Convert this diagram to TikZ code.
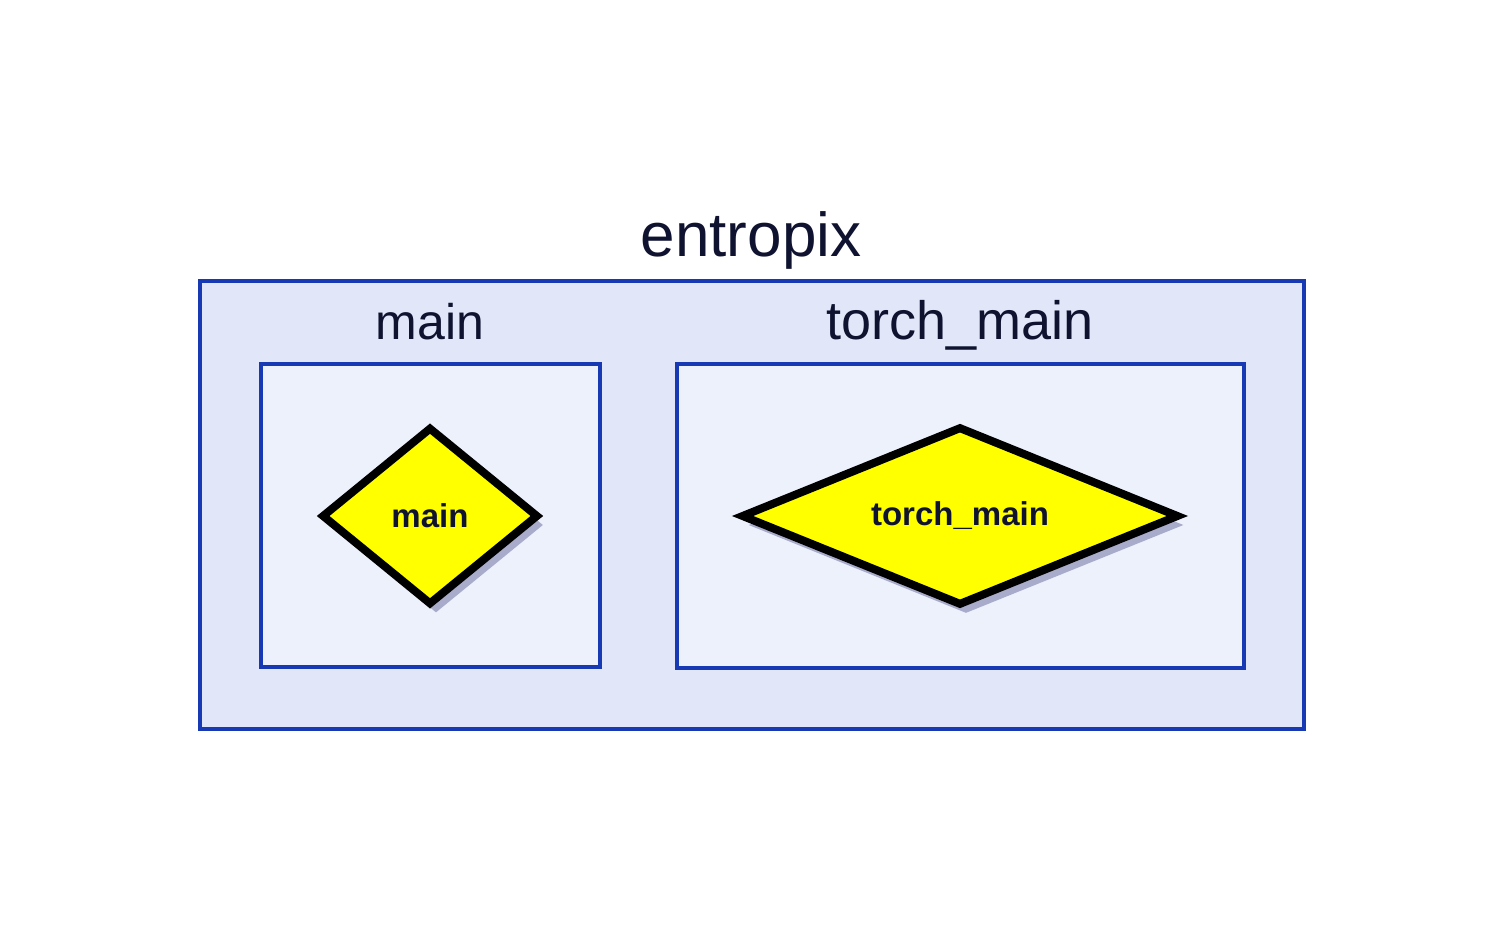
\documentclass[tikz,border=0pt]{standalone}
\usepackage{fontspec}
\setmainfont{Liberation Sans}
\usetikzlibrary{shapes.geometric,shadows}
\definecolor{boxblue}{HTML}{1739B3}
\definecolor{outerfill}{HTML}{E1E7F9}
\definecolor{innerfill}{HTML}{EDF1FC}
\definecolor{inkc}{HTML}{0F1330}
\definecolor{shadowc}{HTML}{A8ABC9}
\definecolor{decyellow}{HTML}{FFFF00}
\begin{document}
\begin{tikzpicture}[x=0.5pt,y=-0.5pt,
  outerbox/.style={draw=boxblue,line width=2pt,fill=outerfill,rectangle,inner sep=0pt},
  innerbox/.style={draw=boxblue,line width=2pt,fill=innerfill,rectangle,inner sep=0pt},
  decision/.style={diamond,draw=black,line width=4pt,fill=decyellow,inner sep=0pt,
    text=inkc,font=\fontsize{16.5}{18}\selectfont\bfseries,
    drop shadow={shadow xshift=3pt,shadow yshift=-4.5pt,fill=shadowc,opacity=1}},
  title/.style={text=inkc,anchor=base,inner sep=0pt}]
\useasboundingbox (0,0) rectangle (1504,930);
\node[outerbox,minimum width=552pt,minimum height=224pt] (outer) at (752,505) {};
\node[innerbox,minimum width=169.5pt,minimum height=151.5pt] (mainbox) at (430.5,515.5) {};
\node[innerbox,minimum width=283.5pt,minimum height=152pt] (torchbox) at (960.5,516) {};
\node[title,font=\fontsize{31}{36}\selectfont] (ttl) at (751,257) {entropix};
\node[title,font=\fontsize{25}{30}\selectfont] (mainlbl) at (430,340) {main};
\node[title,font=\fontsize{27}{30}\selectfont] (torchlbl) at (960,340) {torch\_main};
\node[decision,aspect=1.2,minimum width=108.5pt,minimum height=89pt] (dmain) at (430,516) {main};
\node[decision,aspect=2.5,minimum width=219pt,minimum height=89.5pt] (dtorch) at (960,516) {torch\_main};
\end{tikzpicture}
\end{document}
